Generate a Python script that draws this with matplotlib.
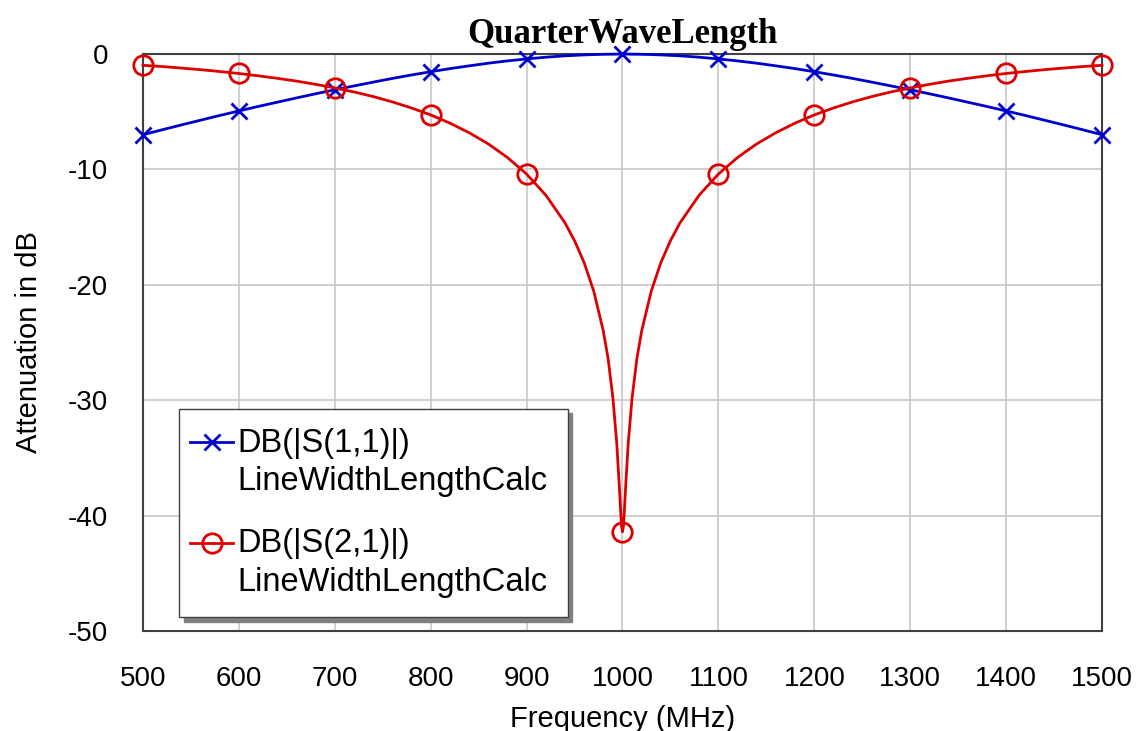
import matplotlib
matplotlib.use("Agg")
import matplotlib.pyplot as plt  # noqa: E402
import matplotlib.legend as mlegend  # noqa: E402
from matplotlib.legend_handler import HandlerLine2D  # noqa: E402
from matplotlib.patches import Shadow  # noqa: E402
from matplotlib.transforms import Affine2D  # noqa: E402

# frequency points (MHz) and the dB values
freq = [500, 520, 540, 560, 580, 600, 620, 640, 660, 680, 700, 720, 740,
        760, 780, 800, 820, 840, 860, 880, 900, 920, 940, 950, 960, 970,
        980, 985, 990, 994, 997, 998, 999, 1000, 1001, 1002, 1003, 1006,
        1010, 1015, 1020, 1030, 1040, 1050, 1060, 1080, 1100, 1120, 1140,
        1160, 1180, 1200, 1220, 1240, 1260, 1280, 1300, 1320, 1340, 1360,
        1380, 1400, 1420, 1440, 1460, 1480, 1500]
s11_db = [-6.99, -6.56, -6.14, -5.73, -5.32, -4.93, -4.54, -4.17, -3.80,
          -3.44, -3.09, -2.76, -2.43, -2.11, -1.81, -1.53, -1.26, -1.02,
          -0.79, -0.59, -0.42, -0.27, -0.15, -0.11, -0.07, -0.04, -0.02,
          -0.01, -0.01, 0.0, 0.0, 0.0, 0.0, 0.0,
          0.0, 0.0, 0.0, 0.0, -0.01, -0.01, -0.02, -0.04, -0.07, -0.11,
          -0.15, -0.27, -0.42, -0.59, -0.79, -1.02, -1.26, -1.53, -1.81,
          -2.11, -2.43, -2.76, -3.09, -3.44, -3.80, -4.17, -4.54, -4.93,
          -5.32, -5.73, -6.14, -6.56, -6.99]
s21_db = [-0.97, -1.08, -1.21, -1.35, -1.51, -1.68, -1.88, -2.10, -2.34,
          -2.62, -2.93, -3.28, -3.68, -4.14, -4.67, -5.27, -5.98, -6.81,
          -7.78, -8.96, -10.40, -12.22, -14.62, -16.17, -18.07, -20.54,
          -24.0, -26.4, -29.8, -33.7, -37.9, -39.5, -40.9, -41.4,
          -40.9, -39.5, -37.9, -33.7, -29.8, -26.4, -24.0, -20.54, -18.07,
          -16.17, -14.62, -12.22, -10.40, -8.96, -7.78, -6.81, -5.98, -5.27,
          -4.67, -4.14, -3.68, -3.28, -2.93, -2.62, -2.34, -2.10, -1.88,
          -1.68, -1.51, -1.35, -1.21, -1.08, -0.97]
marker_freq = [500, 600, 700, 800, 900, 1000, 1100, 1200, 1300, 1400, 1500]
y_ticks = [0, -10, -20, -30, -40, -50]

labels = ["DB(|S(1,1)|)\nLineWidthLengthCalc",
          "DB(|S(2,1)|)\nLineWidthLengthCalc"]


class RaisedHandler(HandlerLine2D):
    # legend sample sits beside the first line of the two-line label,
    # and reaches a bit further left than its layout box
    def create_artists(self, legend, orig_handle, xdescent, ydescent,
                       width, height, fontsize, trans):
        ext = 6
        trans = trans + Affine2D().translate(0, 21)
        return super().create_artists(legend, orig_handle, xdescent + ext,
                                      ydescent, width + ext, height,
                                      fontsize, trans)


# a slightly deeper drop shadow than the default 2pt one
mlegend.Shadow = lambda patch, ox, oy, **kw: Shadow(patch, 3.5, -3.5, **kw)

plt.rcParams["font.family"] = ["Liberation Sans", "DejaVu Sans"]
plt.rcParams["axes.unicode_minus"] = False

fig = plt.figure(figsize=(11.4, 7.31), dpi=100)
ax = fig.add_axes([0.1254, 0.1368, 0.8413, 0.7892])

marks = [i for i, f in enumerate(freq) if f in marker_freq]
l1, = ax.plot(freq, s11_db, color="#0000cc", lw=2, marker="x",
              markersize=11, mew=2, markevery=marks, label=labels[0],
              clip_on=False, zorder=3)
l2, = ax.plot(freq, s21_db, color="#dd0000", lw=2, marker="o",
              markersize=14, mew=2, mfc="none", markevery=marks,
              label=labels[1], clip_on=False, zorder=3)

ax.set_xlim(500, 1500)
ax.set_ylim(-50, 0)
ax.set_xticks(marker_freq)
ax.set_yticks(y_ticks)
ax.grid(color="#c8c8c8", lw=1.2)
ax.set_axisbelow(True)
ax.tick_params(length=0, labelsize=20)
ax.tick_params(axis="x", pad=25)
ax.tick_params(axis="y", pad=25)
for sp in ax.spines.values():
    sp.set_color("#404040")
    sp.set_linewidth(1.5)

ax.set_xlabel("Frequency (MHz)", fontsize=21)
ax.set_ylabel("Attenuation in dB", fontsize=21)
ax.xaxis.set_label_coords(0.5, -0.128)
ax.yaxis.set_label_coords(-0.104, 0.5)
ax.set_title("QuarterWaveLength", fontsize=25, fontweight="bold",
             family="Liberation Serif", pad=8)

hm = {l1: RaisedHandler(), l2: RaisedHandler()}
leg = ax.legend(loc="lower left", bbox_to_anchor=(0.0375, 0.024),
                borderaxespad=0, fontsize=23.5, frameon=True, fancybox=False,
                shadow={"color": "#808080", "alpha": 1}, edgecolor="#404040",
                handlelength=1.055, handletextpad=0.15, labelspacing=0.95,
                borderpad=0.6, handler_map=hm)
leg.get_frame().set_linewidth(1.0)
for t in leg.get_texts():
    t.set_linespacing(1.30)

fig.savefig("out.png", dpi=100)
